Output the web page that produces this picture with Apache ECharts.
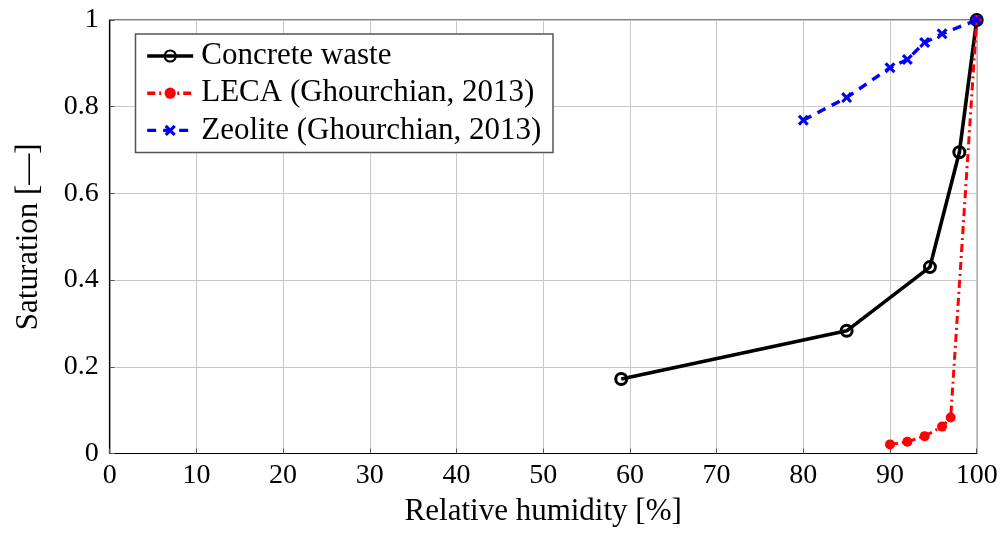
<!DOCTYPE html>
<html>
<head>
<meta charset="utf-8">
<script src="https://cdn.jsdelivr.net/npm/echarts@6/dist/echarts.min.js"></script>
<style>
  html, body { margin: 0; padding: 0; background: #fff; }
  #chart { width: 1003px; height: 535px; }
</style>
</head>
<body>
<div id="chart"></div>
<script>
// Sorption data: relative humidity [%] vs. saturation [-]
const concreteRH = [59, 85, 94.6, 98, 100];
const concreteSat = [0.172, 0.283, 0.430, 0.695, 1.0];

const lecaRH = [90, 92, 94, 96, 97, 100];
const lecaSat = [0.021, 0.027, 0.040, 0.062, 0.083, 1.0];

const zeoliteRH = [80, 85, 90, 92, 94, 96, 100];
const zeoliteSat = [0.769, 0.821, 0.890, 0.909, 0.948, 0.968, 1.0];

const seriesNames = ['Concrete waste', 'LECA (Ghourchian, 2013)', 'Zeolite (Ghourchian, 2013)'];

const FONT = 'Liberation Serif';
const pairs = (xs, ys) => xs.map((x, i) => [x, ys[i]]);
const crossPath = 'path://M2,0 L5,3 L8,0 L10,2 L7,5 L10,8 L8,10 L5,7 L2,10 L0,8 L3,5 L0,2 Z';

const chart = echarts.init(document.getElementById('chart'), null, { renderer: 'canvas' });

chart.setOption({
  animation: false,
  backgroundColor: '#fff',
  textStyle: { fontFamily: FONT },
  grid: {
    left: 109.7, right: 26.3, top: 20, bottom: 81.5,
    show: true, borderColor: '#000', borderWidth: 1.2, backgroundColor: 'transparent'
  },
  xAxis: {
    type: 'value', min: 0, max: 100, interval: 10,
    name: 'Relative humidity [%]', nameLocation: 'middle', nameGap: 43,
    nameTextStyle: { fontFamily: FONT, fontSize: 31, color: '#000' },
    axisLine: { show: true, onZero: false, lineStyle: { color: '#000', width: 1.2 } },
    axisTick: { show: true, inside: true, length: 5, lineStyle: { color: '#555' } },
    axisLabel: { fontFamily: FONT, fontSize: 28, color: '#000', margin: 8 },
    splitLine: { show: true, lineStyle: { color: '#c8c8c8', width: 1 } }
  },
  yAxis: {
    type: 'value', min: 0, max: 1, interval: 0.2,
    name: 'Saturation [—]', nameLocation: 'middle', nameGap: 65,
    nameTextStyle: { fontFamily: FONT, fontSize: 31, color: '#000' },
    axisLine: { show: true, onZero: false, lineStyle: { color: '#000', width: 1.2 } },
    axisTick: { show: true, inside: true, length: 5, lineStyle: { color: '#555' } },
    axisLabel: {
      fontFamily: FONT, fontSize: 28, color: '#000', margin: 11,
      formatter: v => (v === 0 || v === 1) ? String(v) : v.toFixed(1)
    },
    splitLine: { show: true, lineStyle: { color: '#c8c8c8', width: 1 } }
  },
  graphic: [{
    type: 'rect', z: 10,
    shape: { x: 135.5, y: 34, width: 417.5, height: 118.5 },
    style: { fill: '#fff', stroke: '#555', lineWidth: 1.5 }
  }],
  legend: {
    z: 11,
    orient: 'vertical', left: 135.5, top: 33,
    padding: [7.5, 10, 7.5, 10],
    itemWidth: 46, itemHeight: 14, itemGap: 6.2,
    lineStyle: { width: 3.4 },
    textStyle: { fontFamily: FONT, fontSize: 31, color: '#000', lineHeight: 30, padding: [0, 0, 0, 3] },
    data: seriesNames
  },
  series: [
    {
      name: seriesNames[0], type: 'line', z: 2,
      data: pairs(concreteRH, concreteSat),
      symbol: 'circle', symbolSize: 11,
      lineStyle: { color: '#000', width: 3.6, type: 'solid' },
      itemStyle: { color: 'rgba(0,0,0,0)', borderColor: '#000', borderWidth: 3 }
    },
    {
      name: seriesNames[1], type: 'line', z: 3,
      data: pairs(lecaRH, lecaSat),
      symbol: 'circle', symbolSize: 10,
      lineStyle: { color: '#ff0000', width: 3, type: [8, 4, 2, 4] },
      itemStyle: { color: '#ff0000', borderWidth: 0 }
    },
    {
      name: seriesNames[2], type: 'line', z: 4,
      data: pairs(zeoliteRH, zeoliteSat),
      symbol: crossPath, symbolSize: 11,
      lineStyle: { color: '#0000ff', width: 3.4, type: [9, 7] },
      itemStyle: { color: '#0000ff', borderWidth: 0 }
    }
  ]
});
</script>
</body>
</html>
